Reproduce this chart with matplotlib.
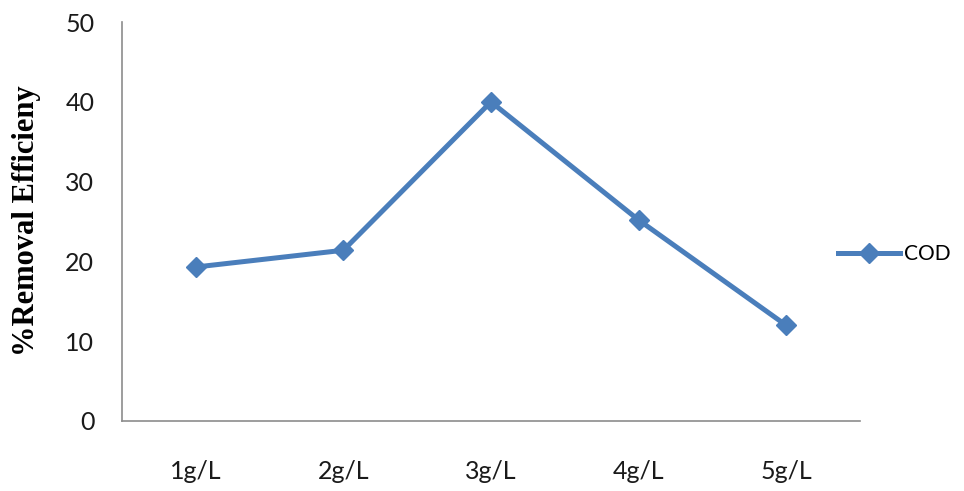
import matplotlib
matplotlib.use("Agg")
import matplotlib.pyplot as plt

categories = ["1g/L", "2g/L", "3g/L", "4g/L", "5g/L"]
cod = [19.3, 21.4, 40.0, 25.2, 12.0]
yticks = [0, 10, 20, 30, 40, 50]

fig = plt.figure(figsize=(9.64, 4.91), dpi=100)
ax = fig.add_axes([0.1266, 0.1426, 0.7654, 0.8124])

x = range(len(categories))
line, = ax.plot(x, cod, color="#4A7EBB", linewidth=3.6, marker="D",
                markersize=10, label="COD")

ax.set_xlim(-0.5, len(categories) - 0.5)
ax.set_ylim(0, 50)
ax.set_yticks(yticks)
ax.set_xticks(list(x))
ax.set_xticklabels(categories)

for s in ["top", "right"]:
    ax.spines[s].set_visible(False)
for s in ["left", "bottom"]:
    ax.spines[s].set_color("#8c8c8c")
    ax.spines[s].set_linewidth(1.2)

ax.tick_params(axis="both", length=0, labelsize=18, colors="#1a1a1a")
ax.tick_params(axis="y", pad=20)
ax.tick_params(axis="x", pad=28)
for lab in ax.get_xticklabels() + ax.get_yticklabels():
    lab.set_family("Lato")

fig.text(0.027, 0.55, "%Removal Efficieny", rotation=90, ha="center",
         va="center", family="Liberation Serif", fontweight="bold", fontsize=22)

fig.legend(handles=[line], loc="center left", bbox_to_anchor=(0.869, 0.482),
           frameon=False, prop={"family": "Lato", "size": 15},
           handlelength=3.0, handletextpad=0.2, borderpad=0, borderaxespad=0)

fig.savefig("out.png", dpi=100)
